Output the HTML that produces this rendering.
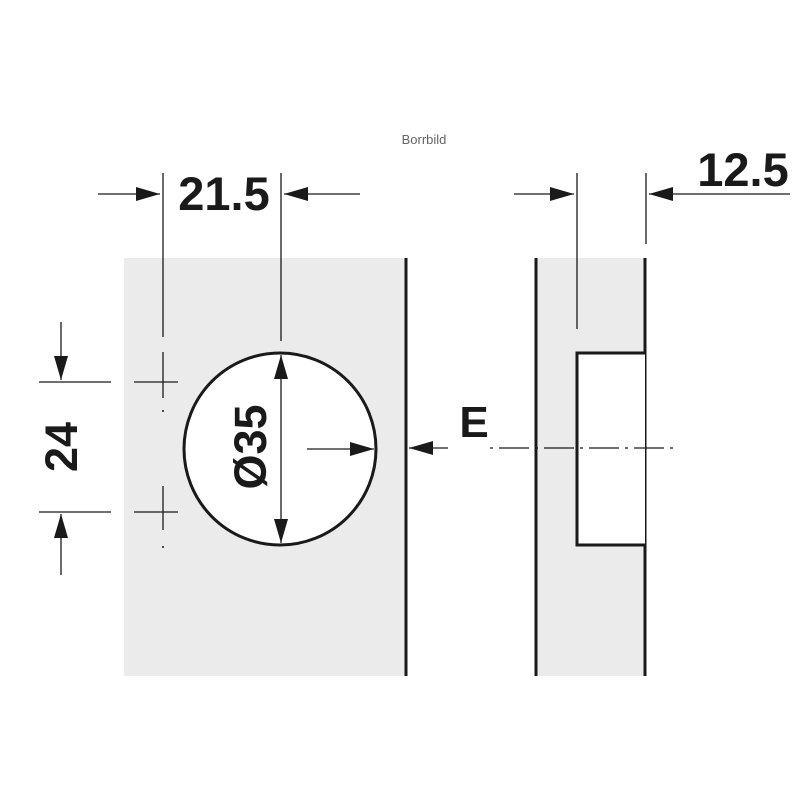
<!DOCTYPE html>
<html><head><meta charset="utf-8"><style>
html,body{margin:0;padding:0;background:#fff;width:800px;height:800px;overflow:hidden}
</style></head><body>
<svg width="800" height="800" viewBox="0 0 800 800" xmlns="http://www.w3.org/2000/svg">
<defs>
<marker id="a" viewBox="0 0 24 14" refX="24" refY="7" markerWidth="24" markerHeight="14" markerUnits="userSpaceOnUse" orient="auto"><path d="M0,0 L24,7 L0,14 Z" fill="#1a1a1a"/></marker>
</defs>
<rect x="124" y="258" width="281" height="418" fill="#ebebeb"/>
<rect x="537" y="258" width="108" height="418" fill="#ebebeb"/>
<g stroke="#1a1a1a" fill="none">
<line x1="406" y1="258" x2="406" y2="676" stroke-width="3"/>
<circle cx="280" cy="449" r="96" fill="#fff" stroke-width="3"/>
<line x1="536" y1="258" x2="536" y2="676" stroke-width="3"/>
<line x1="645" y1="258" x2="645" y2="676" stroke-width="3"/>
<path d="M645,353 H577 V545 H645" fill="#fff" stroke-width="3"/>
<g stroke-width="1.3">
<line x1="163" y1="173" x2="163" y2="337"/>
<line x1="281" y1="173" x2="281" y2="341"/>
<line x1="98" y1="194" x2="160" y2="194" marker-end="url(#a)"/>
<line x1="360" y1="194" x2="284" y2="194" marker-end="url(#a)"/>
<line x1="134" y1="382" x2="178" y2="382"/>
<line x1="163" y1="352" x2="163" y2="398"/>
<line x1="134" y1="512" x2="178" y2="512"/>
<line x1="163" y1="486" x2="163" y2="530"/>
<line x1="39" y1="382" x2="111" y2="382"/>
<line x1="39" y1="512" x2="111" y2="512"/>
<line x1="61" y1="322" x2="61" y2="380" marker-end="url(#a)"/>
<line x1="61" y1="575" x2="61" y2="514" marker-end="url(#a)"/>
<line x1="281" y1="449" x2="281" y2="355" marker-end="url(#a)"/>
<line x1="281" y1="449" x2="281" y2="543" marker-end="url(#a)"/>
<line x1="307" y1="449" x2="374" y2="449" marker-end="url(#a)"/>
<line x1="448" y1="448" x2="409" y2="448" marker-end="url(#a)"/>
<line x1="577" y1="173" x2="577" y2="329"/>
<line x1="646" y1="173" x2="646" y2="244"/>
<line x1="514" y1="194" x2="574" y2="194" marker-end="url(#a)"/>
<line x1="790" y1="194" x2="649" y2="194" marker-end="url(#a)"/>
<line x1="490" y1="448" x2="675" y2="448" stroke-dasharray="30,6,3,6" stroke-dashoffset="36"/>
</g>
</g>
<circle cx="163" cy="411" r="1" fill="#1a1a1a"/>
<circle cx="163" cy="547" r="1" fill="#1a1a1a"/>
<g font-family="Liberation Sans, sans-serif" font-weight="bold" fill="#1a1a1a">
<text x="224" y="210" font-size="47" text-anchor="middle">21.5</text>
<text x="743" y="186" font-size="47" text-anchor="middle">12.5</text>
<text x="474" y="437" font-size="44" text-anchor="middle">E</text>
<text transform="translate(77,447) rotate(-90)" font-size="45" text-anchor="middle">24</text>
<text transform="translate(266,447) rotate(-90)" font-size="45" text-anchor="middle">Ø35</text>
</g>
<text x="424" y="144" font-family="Liberation Sans, sans-serif" font-size="13" fill="#666" text-anchor="middle">Borrbild</text>
</svg>
</body></html>
